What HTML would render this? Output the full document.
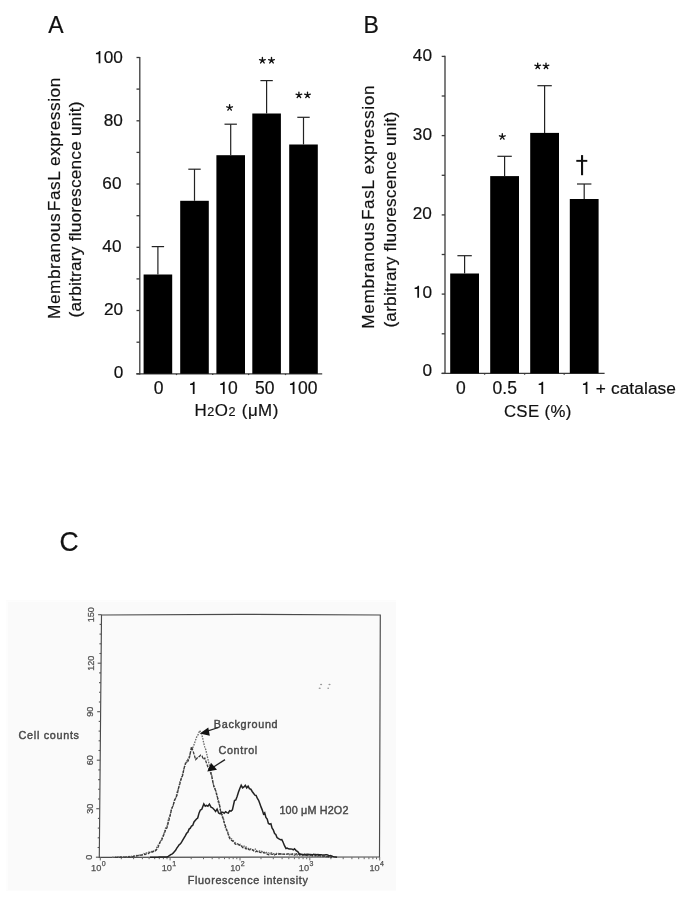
<!DOCTYPE html>
<html><head><meta charset="utf-8"><style>
html,body{margin:0;padding:0;background:#fff;width:685px;height:900px;overflow:hidden}
svg{display:block;will-change:transform}
text{font-family:"Liberation Sans", sans-serif}
.t{fill:#111;stroke:#111;stroke-width:0.2px}
.cl{fill:#505050;stroke:#505050;stroke-width:0.25px}
.ax{stroke:#3a3a3a;stroke-width:1.3}
.eb{stroke:#222;stroke-width:1.2}
.ct{font-size:10.8px;fill:#474747;stroke:#474747;stroke-width:0.4px}
</style></head><body>
<svg width="685" height="900" viewBox="0 0 685 900">
<text x="48.2" y="32.5" font-size="23" class="t">A</text>
<line x1="139.8" y1="56.9" x2="139.8" y2="374.4" class="ax"/>
<line x1="136.5" y1="373.8" x2="139.8" y2="373.8" class="ax"/>
<line x1="136.5" y1="342.2" x2="139.8" y2="342.2" class="ax"/>
<line x1="136.5" y1="310.5" x2="139.8" y2="310.5" class="ax"/>
<line x1="136.5" y1="278.9" x2="139.8" y2="278.9" class="ax"/>
<line x1="136.5" y1="247.3" x2="139.8" y2="247.3" class="ax"/>
<line x1="136.5" y1="215.7" x2="139.8" y2="215.7" class="ax"/>
<line x1="136.5" y1="184.0" x2="139.8" y2="184.0" class="ax"/>
<line x1="136.5" y1="152.4" x2="139.8" y2="152.4" class="ax"/>
<line x1="136.5" y1="120.8" x2="139.8" y2="120.8" class="ax"/>
<line x1="136.5" y1="89.1" x2="139.8" y2="89.1" class="ax"/>
<line x1="136.5" y1="57.5" x2="139.8" y2="57.5" class="ax"/>
<text x="94.20" y="63.20" font-size="17.2" letter-spacing="0" class="t"> 00</text>
<polygon points="100.38,63.20 100.38,51.11 99.19,51.11 98.33,52.36 95.94,53.05 95.94,54.34 98.66,54.34 98.66,63.20" fill="#111"/>
<text x="103.77" y="126.20" font-size="17.2" letter-spacing="0" class="t">80</text>
<text x="102.37" y="189.20" font-size="17.2" letter-spacing="0" class="t">60</text>
<text x="102.37" y="251.90" font-size="17.2" letter-spacing="0" class="t">40</text>
<text x="103.97" y="315.10" font-size="17.2" letter-spacing="0" class="t">20</text>
<text x="113.83" y="378.40" font-size="17.2" letter-spacing="0" class="t">0</text>
<line x1="136.3" y1="373.8" x2="322.2" y2="373.8" class="ax"/>
<rect x="143.6" y="274.5" width="28.6" height="99.3" fill="#000"/>
<line x1="157.9" y1="246.6" x2="157.9" y2="274.5" class="eb"/>
<line x1="151.7" y1="246.6" x2="164.1" y2="246.6" class="eb"/>
<rect x="180.2" y="200.8" width="28.6" height="173.0" fill="#000"/>
<line x1="194.5" y1="169.2" x2="194.5" y2="200.8" class="eb"/>
<line x1="188.3" y1="169.2" x2="200.7" y2="169.2" class="eb"/>
<line x1="176.5" y1="373.8" x2="176.5" y2="375.1" class="ax"/>
<rect x="216.4" y="155.2" width="28.6" height="218.6" fill="#000"/>
<line x1="230.7" y1="124.2" x2="230.7" y2="155.2" class="eb"/>
<line x1="224.5" y1="124.2" x2="236.9" y2="124.2" class="eb"/>
<line x1="212.7" y1="373.8" x2="212.7" y2="375.1" class="ax"/>
<rect x="252.3" y="113.5" width="28.6" height="260.3" fill="#000"/>
<line x1="266.6" y1="80.6" x2="266.6" y2="113.5" class="eb"/>
<line x1="260.4" y1="80.6" x2="272.8" y2="80.6" class="eb"/>
<line x1="248.6" y1="373.8" x2="248.6" y2="375.1" class="ax"/>
<rect x="289.2" y="144.5" width="28.6" height="229.3" fill="#000"/>
<line x1="303.5" y1="117.3" x2="303.5" y2="144.5" class="eb"/>
<line x1="297.3" y1="117.3" x2="309.7" y2="117.3" class="eb"/>
<line x1="285.5" y1="373.8" x2="285.5" y2="375.1" class="ax"/>
<text x="153.80" y="394.00" font-size="17.5" letter-spacing="0.0" class="t">0</text>
<text x="188.30" y="394.00" font-size="17.5" letter-spacing="0.0" class="t"> </text>
<polygon points="194.58,394.00 194.58,381.70 193.38,381.70 192.50,382.98 190.07,383.68 190.07,384.99 192.83,384.99 192.83,394.00" fill="#111"/>
<text x="218.40" y="394.00" font-size="17.5" letter-spacing="0.0" class="t"> 0</text>
<polygon points="224.68,394.00 224.68,381.70 223.47,381.70 222.60,382.98 220.17,383.68 220.17,384.99 222.93,384.99 222.93,394.00" fill="#111"/>
<text x="255.10" y="394.00" font-size="17.5" letter-spacing="0.0" class="t">50</text>
<text x="288.20" y="394.00" font-size="17.5" letter-spacing="0.0" class="t"> 00</text>
<polygon points="294.48,394.00 294.48,381.70 293.27,381.70 292.40,382.98 289.97,383.68 289.97,384.99 292.73,384.99 292.73,394.00" fill="#111"/>
<path d="M229.60,107.70L229.60,104.70M229.60,107.70L232.45,106.77M229.60,107.70L231.36,110.13M229.60,107.70L227.84,110.13M229.60,107.70L226.75,106.77" stroke="#111" stroke-width="1.35" stroke-linecap="round" fill="none"/>
<path d="M262.40,60.50L262.40,57.50M262.40,60.50L265.25,59.57M262.40,60.50L264.16,62.93M262.40,60.50L260.64,62.93M262.40,60.50L259.55,59.57" stroke="#111" stroke-width="1.35" stroke-linecap="round" fill="none"/>
<path d="M271.50,60.50L271.50,57.50M271.50,60.50L274.35,59.57M271.50,60.50L273.26,62.93M271.50,60.50L269.74,62.93M271.50,60.50L268.65,59.57" stroke="#111" stroke-width="1.35" stroke-linecap="round" fill="none"/>
<path d="M298.90,95.10L298.90,92.10M298.90,95.10L301.75,94.17M298.90,95.10L300.66,97.53M298.90,95.10L297.14,97.53M298.90,95.10L296.05,94.17" stroke="#111" stroke-width="1.35" stroke-linecap="round" fill="none"/>
<path d="M307.50,95.10L307.50,92.10M307.50,95.10L310.35,94.17M307.50,95.10L309.26,97.53M307.50,95.10L305.74,97.53M307.50,95.10L304.65,94.17" stroke="#111" stroke-width="1.35" stroke-linecap="round" fill="none"/>
<text x="194.6" y="416.2" font-size="16.9" letter-spacing="0.5" class="t">H<tspan font-size="12.6">2</tspan>O<tspan font-size="12.6">2</tspan> <tspan dx="0.6">(μM)</tspan></text>
<text transform="translate(59.5,319.0) rotate(-90)" font-size="17.3" letter-spacing="0.52" class="t"><tspan x="0" y="0">Membranous</tspan><tspan dx="1.8">FasL expression</tspan></text>
<text transform="translate(81.2,317.5) rotate(-90)" font-size="17.3" letter-spacing="0.2" class="t">(arbitrary fluorescence unit)</text>
<text x="363.6" y="32.5" font-size="23" class="t">B</text>
<line x1="445.0" y1="55.8" x2="445.0" y2="374.0" class="ax"/>
<line x1="441.7" y1="373.4" x2="445.0" y2="373.4" class="ax"/>
<line x1="441.7" y1="333.8" x2="445.0" y2="333.8" class="ax"/>
<line x1="441.7" y1="294.1" x2="445.0" y2="294.1" class="ax"/>
<line x1="441.7" y1="254.5" x2="445.0" y2="254.5" class="ax"/>
<line x1="441.7" y1="214.9" x2="445.0" y2="214.9" class="ax"/>
<line x1="441.7" y1="175.3" x2="445.0" y2="175.3" class="ax"/>
<line x1="441.7" y1="135.6" x2="445.0" y2="135.6" class="ax"/>
<line x1="441.7" y1="96.0" x2="445.0" y2="96.0" class="ax"/>
<line x1="441.7" y1="56.4" x2="445.0" y2="56.4" class="ax"/>
<text x="412.87" y="60.90" font-size="17.2" letter-spacing="0" class="t">40</text>
<text x="412.87" y="139.70" font-size="17.2" letter-spacing="0" class="t">30</text>
<text x="412.67" y="219.10" font-size="17.2" letter-spacing="0" class="t">20</text>
<text x="412.87" y="297.80" font-size="17.2" letter-spacing="0" class="t"> 0</text>
<polygon points="419.04,297.80 419.04,285.71 417.86,285.71 417.00,286.96 414.61,287.65 414.61,288.94 417.32,288.94 417.32,297.80" fill="#111"/>
<text x="422.43" y="376.20" font-size="17.2" letter-spacing="0" class="t">0</text>
<line x1="441.6" y1="373.4" x2="604.6" y2="373.4" class="ax"/>
<rect x="450.2" y="273.5" width="28.8" height="99.9" fill="#000"/>
<line x1="464.6" y1="255.7" x2="464.6" y2="273.5" class="eb"/>
<line x1="457.4" y1="255.7" x2="471.8" y2="255.7" class="eb"/>
<rect x="490.2" y="176.1" width="28.8" height="197.3" fill="#000"/>
<line x1="504.6" y1="156.3" x2="504.6" y2="176.1" class="eb"/>
<line x1="497.4" y1="156.3" x2="511.8" y2="156.3" class="eb"/>
<line x1="484.6" y1="373.4" x2="484.6" y2="374.7" class="ax"/>
<rect x="530.2" y="132.9" width="28.8" height="240.5" fill="#000"/>
<line x1="544.6" y1="85.7" x2="544.6" y2="132.9" class="eb"/>
<line x1="537.4" y1="85.7" x2="551.8" y2="85.7" class="eb"/>
<line x1="524.6" y1="373.4" x2="524.6" y2="374.7" class="ax"/>
<rect x="569.8" y="199.0" width="28.8" height="174.3" fill="#000"/>
<line x1="584.2" y1="184.0" x2="584.2" y2="199.0" class="eb"/>
<line x1="577.0" y1="184.0" x2="591.4" y2="184.0" class="eb"/>
<line x1="564.2" y1="373.4" x2="564.2" y2="374.7" class="ax"/>
<path d="M502.30,136.70L502.30,133.70M502.30,136.70L505.15,135.77M502.30,136.70L504.06,139.13M502.30,136.70L500.54,139.13M502.30,136.70L499.45,135.77" stroke="#111" stroke-width="1.35" stroke-linecap="round" fill="none"/>
<path d="M537.70,66.10L537.70,63.10M537.70,66.10L540.55,65.17M537.70,66.10L539.46,68.53M537.70,66.10L535.94,68.53M537.70,66.10L534.85,65.17" stroke="#111" stroke-width="1.35" stroke-linecap="round" fill="none"/>
<path d="M546.00,66.10L546.00,63.10M546.00,66.10L548.85,65.17M546.00,66.10L547.76,68.53M546.00,66.10L544.24,68.53M546.00,66.10L543.15,65.17" stroke="#111" stroke-width="1.35" stroke-linecap="round" fill="none"/>
<rect x="581" y="155.1" width="2.1" height="20.1" fill="#111"/><rect x="576.3" y="159.9" width="11" height="1.9" fill="#111"/>
<text x="455.90" y="394.00" font-size="17.5" letter-spacing="0.0" class="t">0</text>
<text x="492.60" y="394.00" font-size="17.5" letter-spacing="0.0" class="t">0.5</text>
<text x="536.90" y="394.00" font-size="17.5" letter-spacing="0.0" class="t"> </text>
<polygon points="543.18,394.00 543.18,381.70 541.98,381.70 541.10,382.98 538.67,383.68 538.67,384.99 541.43,384.99 541.43,394.00" fill="#111"/>
<text x="581.20" y="394.00" font-size="17.3" letter-spacing="0.1" class="t">  + catalase</text>
<polygon points="587.41,394.00 587.41,381.84 586.22,381.84 585.35,383.10 582.95,383.79 582.95,385.09 585.68,385.09 585.68,394.00" fill="#111"/>
<text x="503.9" y="416.8" font-size="16.8" letter-spacing="0.35" class="t">CSE (%)</text>
<text transform="translate(374.3,328.8) rotate(-90)" font-size="17.3" letter-spacing="0.61" class="t"><tspan x="0" y="0">Membranous</tspan><tspan dx="1.8">FasL expression</tspan></text>
<text transform="translate(396.2,327.6) rotate(-90)" font-size="17.3" letter-spacing="0.2" class="t">(arbitrary fluorescence unit)</text>
<text transform="translate(59.4,551.1) scale(1,1.025)" font-size="26.5" class="t">C</text>
<rect x="6" y="600.5" width="390" height="290" fill="#fafafa"/>
<rect x="6" y="600.5" width="2" height="290" fill="#fdfdfd"/><rect x="6" y="600.5" width="390" height="1.5" fill="#fdfdfd"/>
<path d="M101.5,615 L240,614.3 L380.3,615 L379.5,857 L99.3,857.3 Z" fill="none" stroke="#4a4a4a" stroke-width="1.15"/>
<line x1="95.9" y1="857.2" x2="99.3" y2="857.2" stroke="#555" stroke-width="1.1"/>
<line x1="97.6" y1="847.5" x2="99.4" y2="847.5" stroke="#555" stroke-width="1.1"/>
<line x1="97.7" y1="837.8" x2="99.5" y2="837.8" stroke="#555" stroke-width="1.1"/>
<line x1="97.8" y1="828.1" x2="99.6" y2="828.1" stroke="#555" stroke-width="1.1"/>
<line x1="97.9" y1="818.4" x2="99.7" y2="818.4" stroke="#555" stroke-width="1.1"/>
<line x1="96.3" y1="808.7" x2="99.7" y2="808.7" stroke="#555" stroke-width="1.1"/>
<line x1="98.0" y1="799.0" x2="99.8" y2="799.0" stroke="#555" stroke-width="1.1"/>
<line x1="98.1" y1="789.3" x2="99.9" y2="789.3" stroke="#555" stroke-width="1.1"/>
<line x1="98.2" y1="779.6" x2="100.0" y2="779.6" stroke="#555" stroke-width="1.1"/>
<line x1="98.3" y1="769.9" x2="100.1" y2="769.9" stroke="#555" stroke-width="1.1"/>
<line x1="96.8" y1="760.2" x2="100.2" y2="760.2" stroke="#555" stroke-width="1.1"/>
<line x1="98.5" y1="750.5" x2="100.3" y2="750.5" stroke="#555" stroke-width="1.1"/>
<line x1="98.6" y1="740.8" x2="100.4" y2="740.8" stroke="#555" stroke-width="1.1"/>
<line x1="98.6" y1="731.1" x2="100.4" y2="731.1" stroke="#555" stroke-width="1.1"/>
<line x1="98.7" y1="721.4" x2="100.5" y2="721.4" stroke="#555" stroke-width="1.1"/>
<line x1="97.2" y1="711.7" x2="100.6" y2="711.7" stroke="#555" stroke-width="1.1"/>
<line x1="98.9" y1="702.0" x2="100.7" y2="702.0" stroke="#555" stroke-width="1.1"/>
<line x1="99.0" y1="692.3" x2="100.8" y2="692.3" stroke="#555" stroke-width="1.1"/>
<line x1="99.1" y1="682.6" x2="100.9" y2="682.6" stroke="#555" stroke-width="1.1"/>
<line x1="99.2" y1="672.9" x2="101.0" y2="672.9" stroke="#555" stroke-width="1.1"/>
<line x1="97.7" y1="663.2" x2="101.1" y2="663.2" stroke="#555" stroke-width="1.1"/>
<line x1="99.4" y1="653.5" x2="101.2" y2="653.5" stroke="#555" stroke-width="1.1"/>
<line x1="99.4" y1="643.8" x2="101.2" y2="643.8" stroke="#555" stroke-width="1.1"/>
<line x1="99.5" y1="634.1" x2="101.3" y2="634.1" stroke="#555" stroke-width="1.1"/>
<line x1="99.6" y1="624.4" x2="101.4" y2="624.4" stroke="#555" stroke-width="1.1"/>
<line x1="98.1" y1="614.7" x2="101.5" y2="614.7" stroke="#555" stroke-width="1.1"/>
<text transform="translate(92.1,857.2) rotate(-90)" font-size="9.2" text-anchor="middle" class="cl">0</text>
<text transform="translate(92.5,808.7) rotate(-90)" font-size="9.2" text-anchor="middle" class="cl">30</text>
<text transform="translate(93.0,760.2) rotate(-90)" font-size="9.2" text-anchor="middle" class="cl">60</text>
<text transform="translate(93.4,711.7) rotate(-90)" font-size="9.2" text-anchor="middle" class="cl">90</text>
<text transform="translate(93.9,663.2) rotate(-90)" font-size="9.2" text-anchor="middle" class="cl">120</text>
<text transform="translate(94.3,614.7) rotate(-90)" font-size="9.2" text-anchor="middle" class="cl">150</text>
<line x1="100.3" y1="857.2" x2="100.3" y2="860.4" stroke="#666" stroke-width="1"/>
<line x1="121.3" y1="857.2" x2="121.3" y2="859.2" stroke="#666" stroke-width="1"/>
<line x1="133.6" y1="857.2" x2="133.6" y2="859.2" stroke="#666" stroke-width="1"/>
<line x1="142.4" y1="857.2" x2="142.4" y2="859.2" stroke="#666" stroke-width="1"/>
<line x1="149.1" y1="857.2" x2="149.1" y2="859.2" stroke="#666" stroke-width="1"/>
<line x1="154.7" y1="857.2" x2="154.7" y2="859.2" stroke="#666" stroke-width="1"/>
<line x1="159.3" y1="857.2" x2="159.3" y2="859.2" stroke="#666" stroke-width="1"/>
<line x1="163.4" y1="857.2" x2="163.4" y2="859.2" stroke="#666" stroke-width="1"/>
<line x1="167.0" y1="857.2" x2="167.0" y2="859.2" stroke="#666" stroke-width="1"/>
<line x1="170.1" y1="857.2" x2="170.1" y2="860.4" stroke="#666" stroke-width="1"/>
<line x1="191.2" y1="857.2" x2="191.2" y2="859.2" stroke="#666" stroke-width="1"/>
<line x1="203.5" y1="857.2" x2="203.5" y2="859.2" stroke="#666" stroke-width="1"/>
<line x1="212.2" y1="857.2" x2="212.2" y2="859.2" stroke="#666" stroke-width="1"/>
<line x1="219.0" y1="857.2" x2="219.0" y2="859.2" stroke="#666" stroke-width="1"/>
<line x1="224.5" y1="857.2" x2="224.5" y2="859.2" stroke="#666" stroke-width="1"/>
<line x1="229.2" y1="857.2" x2="229.2" y2="859.2" stroke="#666" stroke-width="1"/>
<line x1="233.2" y1="857.2" x2="233.2" y2="859.2" stroke="#666" stroke-width="1"/>
<line x1="236.8" y1="857.2" x2="236.8" y2="859.2" stroke="#666" stroke-width="1"/>
<line x1="240.0" y1="857.2" x2="240.0" y2="860.4" stroke="#666" stroke-width="1"/>
<line x1="261.0" y1="857.2" x2="261.0" y2="859.2" stroke="#666" stroke-width="1"/>
<line x1="273.3" y1="857.2" x2="273.3" y2="859.2" stroke="#666" stroke-width="1"/>
<line x1="282.1" y1="857.2" x2="282.1" y2="859.2" stroke="#666" stroke-width="1"/>
<line x1="288.8" y1="857.2" x2="288.8" y2="859.2" stroke="#666" stroke-width="1"/>
<line x1="294.4" y1="857.2" x2="294.4" y2="859.2" stroke="#666" stroke-width="1"/>
<line x1="299.0" y1="857.2" x2="299.0" y2="859.2" stroke="#666" stroke-width="1"/>
<line x1="303.1" y1="857.2" x2="303.1" y2="859.2" stroke="#666" stroke-width="1"/>
<line x1="306.7" y1="857.2" x2="306.7" y2="859.2" stroke="#666" stroke-width="1"/>
<line x1="309.8" y1="857.2" x2="309.8" y2="860.4" stroke="#666" stroke-width="1"/>
<line x1="330.9" y1="857.2" x2="330.9" y2="859.2" stroke="#666" stroke-width="1"/>
<line x1="343.2" y1="857.2" x2="343.2" y2="859.2" stroke="#666" stroke-width="1"/>
<line x1="351.9" y1="857.2" x2="351.9" y2="859.2" stroke="#666" stroke-width="1"/>
<line x1="358.7" y1="857.2" x2="358.7" y2="859.2" stroke="#666" stroke-width="1"/>
<line x1="364.2" y1="857.2" x2="364.2" y2="859.2" stroke="#666" stroke-width="1"/>
<line x1="368.9" y1="857.2" x2="368.9" y2="859.2" stroke="#666" stroke-width="1"/>
<line x1="372.9" y1="857.2" x2="372.9" y2="859.2" stroke="#666" stroke-width="1"/>
<line x1="376.5" y1="857.2" x2="376.5" y2="859.2" stroke="#666" stroke-width="1"/>
<line x1="379.7" y1="857" x2="379.7" y2="860.5" stroke="#666" stroke-width="1"/>
<text x="91.1" y="871.4" font-size="9.2" class="cl">10</text><text x="101.7" y="866.4" font-size="7" class="cl">0</text>
<text x="161.7" y="871.4" font-size="9.2" class="cl">10</text><text x="172.3" y="866.4" font-size="7" class="cl">1</text>
<text x="230.2" y="871.4" font-size="9.2" class="cl">10</text><text x="240.8" y="866.4" font-size="7" class="cl">2</text>
<text x="298.8" y="871.4" font-size="9.2" class="cl">10</text><text x="309.4" y="866.4" font-size="7" class="cl">3</text>
<text x="369.5" y="871.4" font-size="9.2" class="cl">10</text><text x="380.1" y="866.4" font-size="7" class="cl">4</text>
<text x="18.6" y="738.6" class="ct" letter-spacing="0.7">Cell counts</text>
<text x="187.8" y="884.2" class="ct" letter-spacing="0.6">Fluorescence intensity</text>
<text x="213.8" y="727.7" class="ct" letter-spacing="0.69">Background</text>
<text x="218.5" y="753.6" class="ct" letter-spacing="0.65">Control</text>
<text x="279.4" y="814" class="ct" letter-spacing="0.16">100 μM H2O2</text>
<polyline points="112.0,857.3 113.1,857.2 114.3,857.2 115.4,857.1 116.5,857.1 117.7,857.0 118.8,857.0 120.0,857.0 121.1,856.8 122.2,856.8 123.4,856.9 124.5,856.8 125.6,856.8 126.8,856.7 127.9,856.6 129.1,856.5 130.2,856.8 131.3,856.3 132.5,856.0 133.6,855.8 134.7,855.9 135.9,855.7 137.0,855.4 138.1,855.3 139.3,855.2 140.4,855.2 141.5,855.0 142.7,854.4 143.8,853.5 145.0,853.9 146.1,852.9 147.3,852.9 148.4,852.1 149.6,852.3 150.7,851.7 152.0,851.5 153.2,852.2 154.5,850.1 155.8,849.9 157.2,846.5 158.5,844.7 159.9,842.9 161.4,839.2 162.9,836.3 164.3,832.6 165.6,828.1 167.0,826.0 168.5,818.7 170.0,815.6 171.6,808.7 173.1,805.8 174.5,800.8 175.8,797.9 177.2,791.7 178.6,788.6 179.9,781.7 181.3,778.4 182.7,773.5 184.0,768.7 185.4,763.2 186.8,762.3 188.1,758.3 189.5,756.2 190.9,750.3 192.2,749.0 193.6,745.9 195.1,741.5 196.5,737.4 198.1,734.7 199.7,730.6 201.1,732.9 202.5,737.3 203.6,742.4 204.7,746.9 205.8,749.7 207.2,755.9 208.5,761.6 209.9,767.5 211.3,772.9 212.6,780.0 214.0,787.2 215.4,789.4 216.7,793.7 218.1,801.7 219.5,805.3 220.8,811.6 222.2,817.0 223.6,818.9 224.9,826.4 226.3,829.9 227.7,831.9 229.0,835.7 230.4,838.6 231.6,838.8 232.8,840.2 234.1,841.5 235.3,842.8 236.5,843.5 237.7,843.6 238.9,845.0 240.2,844.3 241.4,845.9 242.6,846.6 243.8,846.3 244.9,845.9 246.1,846.9 247.3,848.0 248.5,848.6 249.6,849.5 250.8,848.7 252.0,849.5 253.1,850.0 254.2,849.9 255.4,849.1 256.6,850.8 257.7,851.7 258.9,851.4 260.0,850.8 261.2,851.2 262.3,851.6 263.5,852.7 264.6,852.1 265.8,852.1 266.9,852.8 268.1,852.4 269.2,853.3 270.4,852.6 271.5,852.8 272.7,853.4 273.8,853.8 275.0,853.7 276.1,853.7 277.2,853.1 278.3,853.5 279.4,853.6 280.6,853.8 281.7,854.2 282.8,854.0 283.9,854.4 285.0,854.3 286.1,854.2 287.2,854.4 288.3,854.6 289.4,854.8 290.6,854.5 291.7,854.7 292.8,854.5 293.9,855.3 295.0,855.3 296.1,855.0 297.2,855.0 298.3,854.9 299.4,855.3 300.6,855.4 301.7,855.9 302.8,855.6 303.9,855.4 305.0,855.2 306.1,856.0 307.2,855.8 308.3,855.6 309.4,856.0 310.6,855.7 311.7,856.6 312.8,856.3 313.9,856.3 315.0,856.3 316.1,856.1 317.3,856.4 318.4,856.3 319.5,856.6 320.7,856.4 321.8,856.6 322.9,856.8 324.1,856.9 325.2,856.8 326.3,856.8 327.5,857.0 328.6,857.0 329.7,857.1 330.9,857.1 332.0,857.2" fill="none" stroke="#6a6a6a" stroke-width="1.3" stroke-dasharray="1.6 1.1"/>
<polyline points="115.0,857.3 116.2,857.3 117.3,857.3 118.5,857.2 119.7,857.2 120.8,857.2 122.0,857.2 123.2,857.1 124.4,857.1 125.5,857.1 126.7,857.1 127.9,857.0 129.0,857.0 130.2,857.0 131.3,856.9 132.5,856.8 133.6,856.5 134.7,856.2 135.9,856.2 137.0,855.9 138.1,855.6 139.3,855.3 140.4,855.2 141.5,855.2 142.7,854.9 143.8,854.4 145.0,854.6 146.1,853.9 147.3,853.7 148.4,853.6 149.6,852.5 150.7,851.8 152.0,852.3 153.2,851.2 154.5,851.5 155.8,850.6 157.2,848.7 158.5,846.3 159.9,842.2 161.4,841.0 162.9,837.0 164.3,833.4 165.6,830.1 167.0,827.7 168.5,821.9 170.0,816.1 171.6,808.8 173.1,805.8 174.5,800.1 175.8,798.0 177.2,794.8 178.6,787.6 179.9,783.7 181.3,778.3 182.7,775.4 184.0,768.4 185.4,764.2 186.8,760.9 188.1,761.0 189.5,757.4 191.5,746.8 193.5,752.4 195.6,759.5 196.8,758.5 198.0,756.6 199.3,756.5 200.7,755.1 202.1,756.1 203.4,759.4 204.8,758.1 206.5,763.1 207.9,767.1 209.2,769.8 210.5,772.6 211.7,775.9 212.8,782.0 214.0,786.8 215.4,790.1 216.7,794.8 218.1,799.2 219.5,804.7 220.8,812.5 222.2,814.8 223.6,820.7 224.9,824.4 226.3,828.4 227.7,832.6 229.0,836.9 230.4,839.6 231.6,840.4 232.8,841.1 234.1,842.4 235.3,844.1 236.5,844.3 237.7,844.3 238.9,844.8 240.2,845.4 241.4,845.7 242.6,847.6 243.8,847.6 244.9,847.7 246.1,849.0 247.3,848.4 248.5,849.5 249.6,849.9 250.8,849.3 252.0,849.6 253.1,850.2 254.2,851.3 255.4,851.8 256.6,851.1 257.7,852.3 258.9,852.0 260.0,852.4 261.1,852.5 262.2,852.8 263.3,852.5 264.4,852.9 265.5,853.1 266.6,853.8 267.7,854.5 268.8,854.8 269.9,854.1 271.0,853.9 272.1,854.3 273.2,854.1 274.3,854.9 275.4,854.5 276.6,854.1 277.7,854.5 278.8,854.4 279.9,853.8 281.0,854.0 282.1,854.1 283.2,854.2 284.3,854.2 285.4,854.0 286.6,854.1 287.7,853.9 288.8,853.8 289.9,854.5 291.0,854.1 292.1,854.2 293.2,853.6 294.3,854.0 295.5,854.3 296.6,853.8 297.7,854.5 298.8,854.1 299.9,854.3 301.0,854.2 302.1,854.3 303.2,854.6 304.4,854.2 305.5,854.8 306.6,854.2 307.7,854.1 308.8,854.7 309.9,854.4 311.0,854.7 312.1,855.1 313.2,855.3 314.3,854.7 315.4,855.4 316.5,855.8 317.6,855.8 318.7,855.6 319.8,855.6 320.9,855.8 322.0,855.8 323.1,856.1 324.2,856.2 325.3,856.4 326.4,856.7 327.6,856.6 328.7,856.7 329.8,857.0 330.9,857.1 332.0,857.2" fill="none" stroke="#3a3a3a" stroke-width="1.3" stroke-dasharray="3 1.2"/>
<polyline points="150.0,857.3 151.1,857.3 152.3,857.3 153.4,857.2 154.5,857.2 155.7,857.2 156.8,857.2 157.9,857.2 159.1,857.1 160.2,857.1 161.3,857.1 162.5,857.1 163.6,857.1 164.7,857.0 165.9,857.0 167.0,857.0 168.2,856.4 169.4,855.6 170.7,854.7 171.9,854.1 173.1,853.2 174.3,851.8 175.6,850.3 176.8,848.2 178.1,846.3 179.3,844.6 180.5,843.8 181.7,841.9 183.0,839.7 184.2,837.6 185.4,835.6 186.6,833.3 187.8,832.2 189.1,829.1 190.3,828.2 191.5,826.0 192.7,825.4 194.0,822.0 195.2,820.5 196.5,819.0 197.7,818.0 199.1,812.9 200.4,810.0 201.8,809.3 203.8,803.9 205.2,806.2 206.5,805.3 207.9,806.2 209.4,804.1 211.0,807.2 212.5,807.8 214.0,809.4 215.6,811.5 217.1,809.1 218.6,813.0 220.1,813.9 221.5,812.3 222.8,812.2 224.2,813.2 225.6,811.7 226.9,812.6 228.3,813.0 229.7,810.7 231.0,811.2 232.4,809.8 234.5,800.6 235.8,799.9 237.2,796.3 238.5,792.1 239.8,788.5 241.2,785.3 242.6,787.9 244.0,786.9 245.3,785.3 246.7,787.9 248.1,786.2 249.4,788.6 250.8,789.2 252.2,791.5 253.5,793.3 254.9,795.2 256.1,795.5 257.4,798.5 258.6,800.3 259.8,803.5 261.0,806.9 262.3,810.1 263.5,814.1 264.7,812.8 265.9,817.5 267.2,819.0 268.4,823.4 269.7,824.2 270.9,823.8 272.1,828.2 273.3,829.9 274.6,833.6 275.8,834.4 277.0,837.6 278.2,838.4 279.4,839.2 280.6,839.7 281.8,839.6 283.0,842.0 284.5,845.7 286.0,848.5 287.2,848.1 288.4,848.8 289.6,849.1 290.9,848.9 292.1,849.1 293.3,849.9 294.5,848.8 296.1,850.6 297.7,851.6 298.9,853.2 300.0,854.3 301.1,854.3 302.2,854.4 303.4,855.0 304.5,854.5 305.6,854.6 306.7,855.2 307.8,854.6 309.0,854.2 310.1,854.8 311.2,854.5 312.3,855.1 313.4,854.4 314.6,854.6 315.7,854.4 316.8,854.8 317.9,854.6 319.0,854.8 320.2,854.8 321.3,854.7 322.4,855.1 323.5,855.1 324.6,855.0 325.8,854.7 326.9,854.7 328.0,855.1 329.2,855.9 330.4,855.6 331.6,856.0 332.8,856.4 334.0,856.7 335.5,857.0 337.0,857.3" fill="none" stroke="#222" stroke-width="1.5"/>
<line x1="218.5" y1="727.5" x2="205" y2="731.8" stroke="#222" stroke-width="1.3"/>
<polygon points="199.8,733.6 208.3,727.6 209.8,735.8" fill="#111"/>
<line x1="225" y1="759.6" x2="212" y2="768" stroke="#222" stroke-width="1.3"/>
<polygon points="207.3,771.6 211,762.8 217,769.8" fill="#111"/>
<g fill="#999"><ellipse cx="321.1" cy="684.5" rx="1.1" ry="0.7"/><ellipse cx="329.5" cy="684.5" rx="1.1" ry="0.7"/><ellipse cx="319.7" cy="688.3" rx="1.1" ry="0.8"/><ellipse cx="328.2" cy="688.3" rx="0.9" ry="0.8"/></g>
</svg>
</body></html>
